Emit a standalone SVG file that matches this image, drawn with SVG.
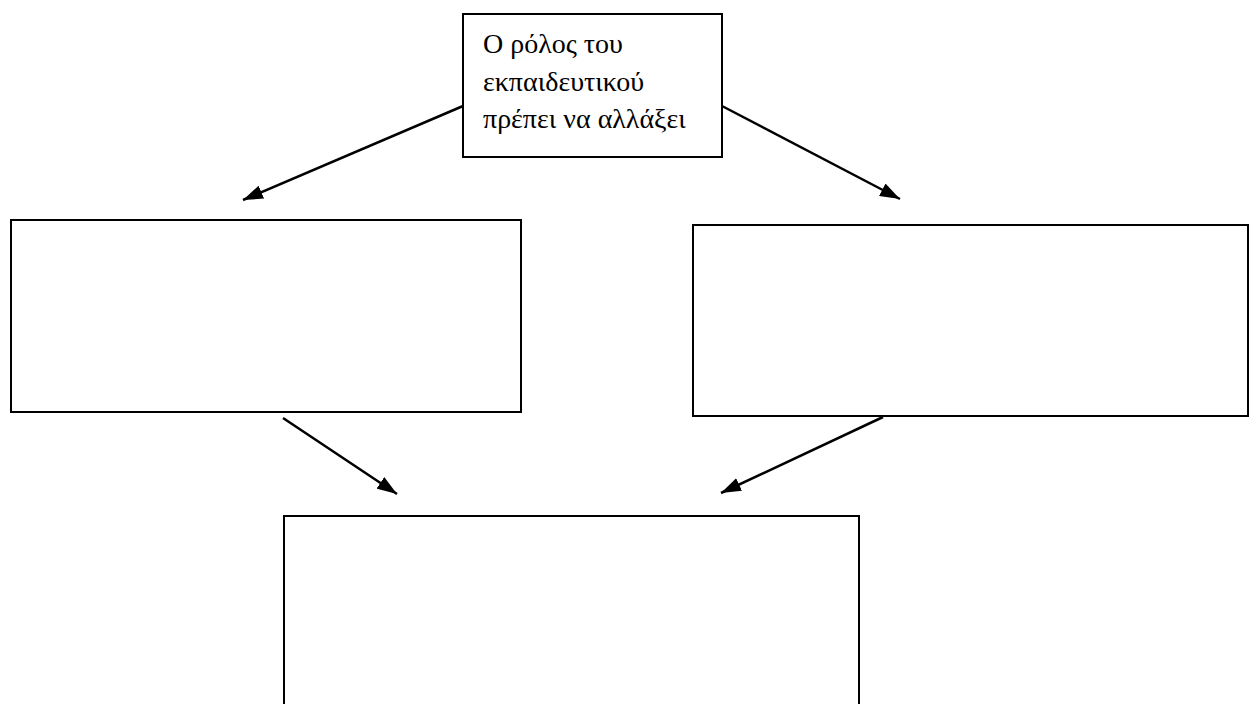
<svg xmlns="http://www.w3.org/2000/svg" width="1250" height="704" viewBox="0 0 1250 704">
<style>
.box{fill:#fff;stroke:#000;stroke-width:2}
.conn{stroke:#000;stroke-width:2.5;fill:none;marker-end:url(#ah)}
.lbl{font-family:"Liberation Serif","DejaVu Serif","Times New Roman",serif;font-size:28px;fill:#000}
</style>
<defs>
<marker id="ah" viewBox="0 0 20 14" refX="20" refY="7" markerWidth="20" markerHeight="14" markerUnits="userSpaceOnUse" orient="auto">
<path d="M0,0 L20,7 L0,14 z" fill="#000"/>
</marker>
</defs>
<rect width="1250" height="704" fill="#fff"/>
<g id="n1">
<rect class="box" x="463" y="14" width="259" height="143"/>
<text class="lbl" x="483" y="53">Ο ρόλος του</text>
<text class="lbl" x="483" y="91">εκπαιδευτικού</text>
<text class="lbl" x="483" y="128">πρέπει να αλλάξει</text>
</g>
<g id="n2"><rect class="box" x="11" y="220" width="510" height="192"/></g>
<g id="n3"><rect class="box" x="693" y="225" width="555" height="191"/></g>
<g id="n4"><rect class="box" x="284" y="516" width="575" height="200"/></g>
<g id="connectors">
<line class="conn" x1="463" y1="106" x2="243" y2="200"/>
<line class="conn" x1="722" y1="106" x2="900" y2="199"/>
<line class="conn" x1="283" y1="418" x2="397" y2="494"/>
<line class="conn" x1="883" y1="417" x2="721" y2="493"/>
</g>
</svg>
